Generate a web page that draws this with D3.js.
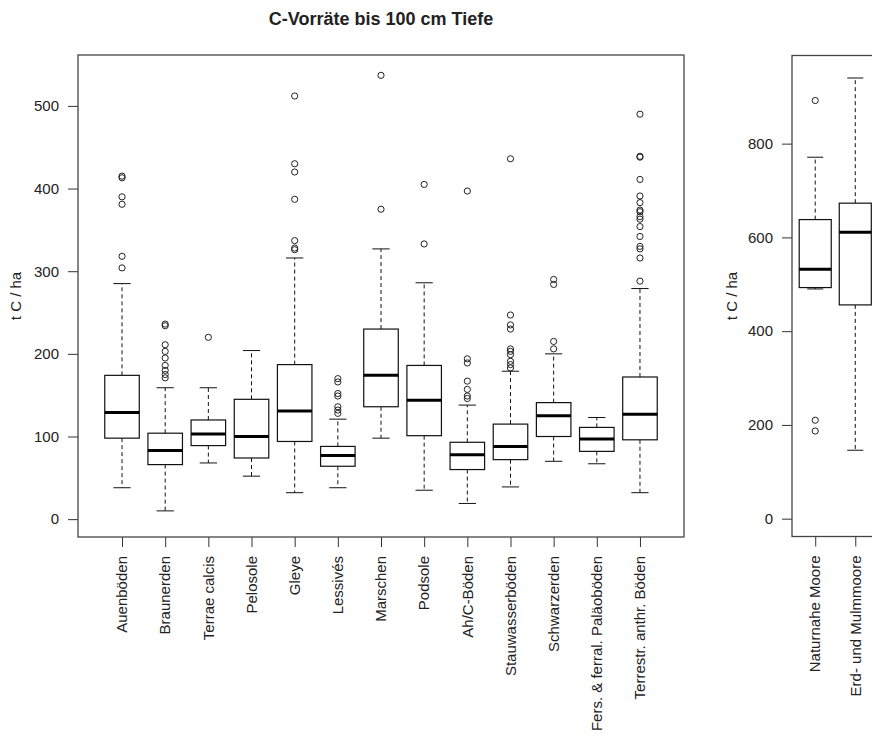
<!DOCTYPE html>
<html>
<head>
<meta charset="utf-8">
<script src="https://cdn.jsdelivr.net/npm/d3@7"></script>
<style>
  body { margin: 0; background: #fff; }
  text { font-family: "Liberation Sans", Arial, sans-serif; fill: #222; }
</style>
</head>
<body>
<div id="chart"></div>
<script>
const WIDTH = 872;
const HEIGHT = 738;

// ---- data (t C / ha) ----
const categoriesLeft = ["Auenböden", "Braunerden", "Terrae calcis", "Pelosole", "Gleye", "Lessivés",
  "Marschen", "Podsole", "Ah/C-Böden", "Stauwasserböden", "Schwarzerden",
  "Fers. & ferral. Paläoböden", "Terrestr. anthr. Böden"];
const whiskerLowLeft  = [38, 10, 68, 52, 32, 38, 98, 35, 19, 39, 70, 67, 32];
const q1Left          = [98, 66, 89, 74, 94, 64, 136, 101, 60, 72, 100, 82, 96];
const medianLeft      = [129, 83, 103, 100, 131, 77, 174, 144, 78, 88, 125, 97, 127];
const q3Left          = [174, 104, 120, 145, 187, 88, 230, 186, 93, 115, 141, 111, 172];
const whiskerHighLeft = [285, 159, 159, 204, 316, 121, 327, 286, 138, 179, 200, 123, 279];
const outliersLeft = [
  [304, 318, 381, 390, 413, 415],
  [171, 175, 180, 186, 195, 203, 211, 234, 236],
  [220],
  [],
  [326, 328, 337, 387, 420, 430, 512],
  [128, 132, 136, 149, 152, 166, 170],
  [375, 537],
  [333, 405],
  [146, 149, 157, 167, 189, 194, 397],
  [183, 187, 191, 199, 203, 206, 230, 235, 247, 436],
  [206, 215, 284, 290],
  [],
  [288, 316, 327, 330, 342, 354, 363, 366, 372, 374, 383, 391, 411, 438, 439, 490]
];

const categoriesRight = ["Naturnahe Moore", "Erd- und Mulmmoore"];
const whiskerLowRight  = [490, 146];
const q1Right          = [493, 456];
const medianRight      = [532, 611];
const q3Right          = [638, 673];
const whiskerHighRight = [771, 940];
const outliersRight = [[187, 210, 892], []];

const ticksLeft = [0, 100, 200, 300, 400, 500];
const ticksRight = [0, 200, 400, 600, 800];
const yLimLeft = [0, 540];
const yLimRight = [0, 950];

const TITLE = "C-Vorräte bis 100 cm Tiefe";
const Y_LABEL = "t C / ha";

// build box records from the arrays
function makeBoxes(cats, lo, a, m, b, hi, out) {
  return cats.map((c, i) => ({
    name: c, pos: i + 1, lo: lo[i], q1: a[i], med: m[i], q3: b[i], hi: hi[i], out: out[i]
  }));
}

// R-style axis padding: 4% on each side
function pad(lim) {
  const d = (lim[1] - lim[0]) * 0.04;
  return [lim[0] - d, lim[1] + d];
}

const SVG = d3.select('#chart')
  .append('svg')
  .attr('width', WIDTH)
  .attr('height', HEIGHT);

SVG.append('rect').attr('width', WIDTH).attr('height', HEIGHT).attr('fill', '#fff');

function drawPanel(opts) {
  const { boxes, left, right, top, bottom, yLim, ticks, labelX } = opts;
  const n = boxes.length;

  const x = d3.scaleLinear()
    .domain(pad([0.5, n + 0.5]))
    .range([left, right]);
  const y = d3.scaleLinear()
    .domain(pad(yLim))
    .range([bottom, top]);

  const unit = x(2) - x(1);
  const boxW = unit * 0.8;
  const capW = boxW * 0.5;

  const g = SVG.append('g');

  // y axis (left side only)
  const yAxis = g.append('g')
    .attr('transform', `translate(${left},0)`)
    .call(d3.axisLeft(y).tickValues(ticks).tickSize(10).tickPadding(9).tickFormat(d3.format('d')));
  yAxis.select('.domain').remove();
  yAxis.selectAll('line').attr('stroke', '#333');
  yAxis.selectAll('text')
    .style('font-size', '15px')
    .style('font-family', '"Liberation Sans", Arial, sans-serif')
    .attr('fill', '#222');

  // x axis ticks with rotated labels
  const xAxis = g.append('g')
    .attr('transform', `translate(0,${bottom})`)
    .call(d3.axisBottom(x).tickValues(boxes.map(d => d.pos)).tickSize(10).tickFormat(''));
  xAxis.select('.domain').remove();
  xAxis.selectAll('line').attr('stroke', '#333');

  g.selectAll('.xlab')
    .data(boxes)
    .enter()
    .append('text')
    .attr('class', 'xlab')
    .attr('transform', d => `translate(${x(d.pos)},${bottom + 19}) rotate(-90)`)
    .attr('dy', '0.35em')
    .attr('text-anchor', 'end')
    .style('font-size', '15px')
    .text(d => d.name);

  // y label
  g.append('text')
    .attr('transform', `translate(${labelX},${(top + bottom) / 2}) rotate(-90)`)
    .attr('dy', '0.35em')
    .attr('text-anchor', 'middle')
    .style('font-size', '15px')
    .text(Y_LABEL);

  const boxG = g.selectAll('.box')
    .data(boxes)
    .enter()
    .append('g')
    .attr('class', 'box');

  // dashed whiskers
  boxG.append('line')
    .attr('x1', d => x(d.pos)).attr('x2', d => x(d.pos))
    .attr('y1', d => y(d.q3)).attr('y2', d => y(d.hi))
    .attr('stroke', '#111').attr('stroke-dasharray', '4,3');
  boxG.append('line')
    .attr('x1', d => x(d.pos)).attr('x2', d => x(d.pos))
    .attr('y1', d => y(d.q1)).attr('y2', d => y(d.lo))
    .attr('stroke', '#111').attr('stroke-dasharray', '4,3');

  // staples
  boxG.append('line')
    .attr('x1', d => x(d.pos) - capW / 2).attr('x2', d => x(d.pos) + capW / 2)
    .attr('y1', d => y(d.hi)).attr('y2', d => y(d.hi))
    .attr('stroke', '#111');
  boxG.append('line')
    .attr('x1', d => x(d.pos) - capW / 2).attr('x2', d => x(d.pos) + capW / 2)
    .attr('y1', d => y(d.lo)).attr('y2', d => y(d.lo))
    .attr('stroke', '#111');

  // box
  boxG.append('rect')
    .attr('x', d => x(d.pos) - boxW / 2)
    .attr('width', boxW)
    .attr('y', d => y(d.q3))
    .attr('height', d => y(d.q1) - y(d.q3))
    .attr('fill', '#fff')
    .attr('stroke', '#111')
    .attr('stroke-width', 1.2);

  // median
  boxG.append('line')
    .attr('x1', d => x(d.pos) - boxW / 2).attr('x2', d => x(d.pos) + boxW / 2)
    .attr('y1', d => y(d.med)).attr('y2', d => y(d.med))
    .attr('stroke', '#000').attr('stroke-width', 3);

  // outliers
  boxG.selectAll('circle')
    .data(d => d.out.map(v => ({ pos: d.pos, v: v })))
    .enter()
    .append('circle')
    .attr('cx', d => x(d.pos))
    .attr('cy', d => y(d.v))
    .attr('r', 3.1)
    .attr('fill', 'none')
    .attr('stroke', '#222')
    .attr('stroke-width', 1);

  // frame
  g.append('rect')
    .attr('x', left).attr('y', top)
    .attr('width', right - left).attr('height', bottom - top)
    .attr('fill', 'none')
    .attr('stroke', '#444')
    .attr('stroke-width', 1.3);
}

drawPanel({
  boxes: makeBoxes(categoriesLeft, whiskerLowLeft, q1Left, medianLeft, q3Left, whiskerHighLeft, outliersLeft),
  left: 78, right: 684, top: 55, bottom: 537,
  yLim: yLimLeft, ticks: ticksLeft, labelX: 16
});

drawPanel({
  boxes: makeBoxes(categoriesRight, whiskerLowRight, q1Right, medianRight, q3Right, whiskerHighRight, outliersRight),
  left: 792, right: 878.5, top: 55.5, bottom: 536.5,
  yLim: yLimRight, ticks: ticksRight, labelX: 732
});

// title
SVG.append('text')
  .attr('x', 381)
  .attr('y', 25)
  .attr('text-anchor', 'middle')
  .style('font-size', '18px')
  .style('font-weight', 'bold')
  .text(TITLE);
</script>
</body>
</html>
